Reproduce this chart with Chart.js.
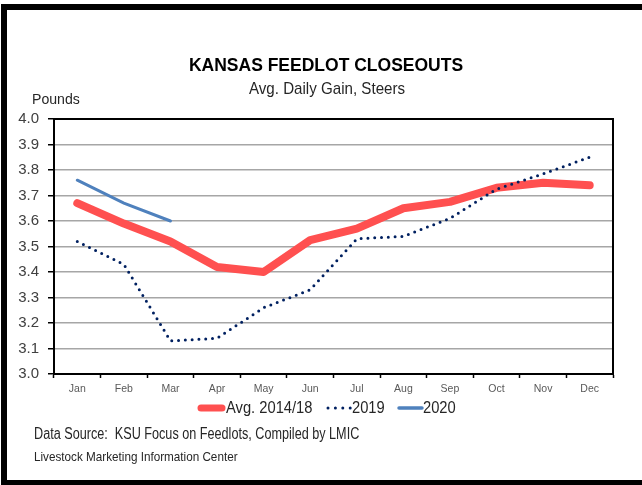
<!DOCTYPE html>
<html lang="en">
<head>
    <meta charset="UTF-8">
    <title>Kansas Feedlot Closeouts</title>
    <script src="https://cdn.jsdelivr.net/npm/chart.js"></script>
    <style>
        html, body { margin: 0; padding: 0; background: #fff; overflow: hidden; }
        #wrap { position: relative; width: 642px; height: 485px; }
        canvas { position: absolute; left: 0; top: 0; }
        #frame {
            position: absolute; left: 1px; top: 4px;
            width: 700px; height: 470px;
            border: 6px solid #000;
            pointer-events: none;
        }
    </style>
</head>
<body>
<div id="wrap">
    <canvas id="chart" width="642" height="485"></canvas>
    <div id="frame"></div>
</div>
<script>
    // data
    const months = ['Jan', 'Feb', 'Mar', 'Apr', 'May', 'Jun', 'Jul', 'Aug', 'Sep', 'Oct', 'Nov', 'Dec'];
    const avg1418 = [3.67, 3.59, 3.52, 3.42, 3.40, 3.525, 3.57, 3.65, 3.675, 3.73, 3.75, 3.74];
    const y2019 = [3.52, 3.43, 3.13, 3.14, 3.26, 3.33, 3.53, 3.54, 3.61, 3.725, 3.785, 3.85];
    const y2020 = [3.76, 3.67, 3.60];

    const FONT = '"Liberation Sans", Arial, sans-serif';
    const RED = '#ff5050';
    const NAVY = '#002060';
    const BLUE = '#4f81bd';

    // the original uses a narrow face, so squeeze text horizontally
    function narrowText(ctx, text, x, y, sx) {
        ctx.save();
        ctx.translate(x, y);
        ctx.scale(sx, 1);
        ctx.fillText(text, 0, 0);
        const w = ctx.measureText(text).width * sx;
        ctx.restore();
        return w;
    }

    // plot frame (top + right edges), titles, legend and notes
    const decorations = {
        id: 'decorations',
        beforeDatasetsDraw(chart) {
            const { ctx, chartArea: a } = chart;
            ctx.save();
            ctx.strokeStyle = '#000';
            ctx.lineWidth = 2;
            ctx.beginPath();
            ctx.moveTo(a.left, a.top);
            ctx.lineTo(a.right, a.top);
            ctx.lineTo(a.right, a.bottom);
            ctx.stroke();
            ctx.restore();
        },
        afterDraw(chart) {
            const ctx = chart.ctx;
            ctx.save();
            ctx.textBaseline = 'middle';

            ctx.fillStyle = '#000';
            ctx.textAlign = 'center';
            ctx.font = 'bold 17.5px ' + FONT;
            ctx.fillText('KANSAS FEEDLOT CLOSEOUTS', 326, 66);
            ctx.fillStyle = '#262626';
            ctx.font = '17px ' + FONT;
            narrowText(ctx, 'Avg. Daily Gain, Steers', 327, 89, 0.89);

            ctx.textAlign = 'left';
            ctx.font = '15px ' + FONT;
            narrowText(ctx, 'Pounds', 32, 100, 0.94);

            // legend
            const ly = 408;
            ctx.font = '16px ' + FONT;
            ctx.save();
            ctx.lineCap = 'round';
            ctx.strokeStyle = RED; ctx.lineWidth = 7;
            ctx.beginPath(); ctx.moveTo(201, ly); ctx.lineTo(222, ly); ctx.stroke();
            ctx.strokeStyle = NAVY; ctx.lineWidth = 3;
            ctx.setLineDash([0, 7.4]);
            ctx.beginPath(); ctx.moveTo(328, ly); ctx.lineTo(351, ly); ctx.stroke();
            ctx.setLineDash([]);
            ctx.strokeStyle = BLUE; ctx.lineWidth = 3.5;
            ctx.beginPath(); ctx.moveTo(399, ly); ctx.lineTo(422, ly); ctx.stroke();
            ctx.restore();
            ctx.fillStyle = '#262626';
            narrowText(ctx, 'Avg. 2014/18', 226, ly + 1, 0.92);
            narrowText(ctx, '2019', 352, ly + 1, 0.92);
            narrowText(ctx, '2020', 423, ly + 1, 0.92);

            ctx.font = '16px ' + FONT;
            narrowText(ctx, 'Data Source:  KSU Focus on Feedlots, Compiled by LMIC', 34, 435, 0.79);
            ctx.font = '13px ' + FONT;
            narrowText(ctx, 'Livestock Marketing Information Center', 34, 457, 0.9);
            ctx.restore();
        }
    };

    new Chart(document.getElementById('chart'), {
        type: 'line',
        data: {
            labels: months,
            datasets: [
                {
                    label: 'Avg. 2014/18',
                    data: avg1418,
                    borderColor: RED,
                    borderWidth: 8,
                    borderCapStyle: 'round',
                    borderJoinStyle: 'round',
                    pointRadius: 0,
                    order: 3
                },
                {
                    label: '2019',
                    data: y2019,
                    borderColor: NAVY,
                    borderWidth: 3,
                    borderDash: [0, 6.8],
                    borderCapStyle: 'round',
                    pointRadius: 0,
                    order: 2
                },
                {
                    label: '2020',
                    data: y2020,
                    borderColor: BLUE,
                    borderWidth: 3,
                    borderCapStyle: 'round',
                    pointRadius: 0,
                    order: 1
                }
            ]
        },
        options: {
            responsive: false,
            animation: false,
            layout: { padding: { left: 0, top: 119, right: 29, bottom: 0 } },
            plugins: {
                legend: { display: false },
                title: { display: false },
                tooltip: { enabled: false }
            },
            scales: {
                x: {
                    offset: true,
                    afterFit(scale) { scale.height = 111; },
                    grid: {
                        offset: true,
                        drawOnChartArea: false,
                        tickLength: 4,
                        tickColor: '#000',
                        tickWidth: 1.5
                    },
                    border: { color: '#000', width: 2 },
                    ticks: {
                        color: '#595959',
                        padding: 5,
                        maxRotation: 0,
                        font: { family: FONT, size: 10.5 }
                    }
                },
                y: {
                    min: 3.0,
                    max: 4.0,
                    afterFit(scale) { scale.width = 54; },
                    grid: {
                        color: '#a6a6a6',
                        lineWidth: 1.5,
                        tickLength: 6,
                        tickColor: '#000',
                        tickWidth: 1.5
                    },
                    border: { color: '#000', width: 2 },
                    ticks: {
                        stepSize: 0.1,
                        color: '#404040',
                        padding: 9,
                        font: { family: FONT, size: 15 },
                        callback: v => v.toFixed(1)
                    }
                }
            }
        },
        plugins: [decorations]
    });
</script>
</body>
</html>
